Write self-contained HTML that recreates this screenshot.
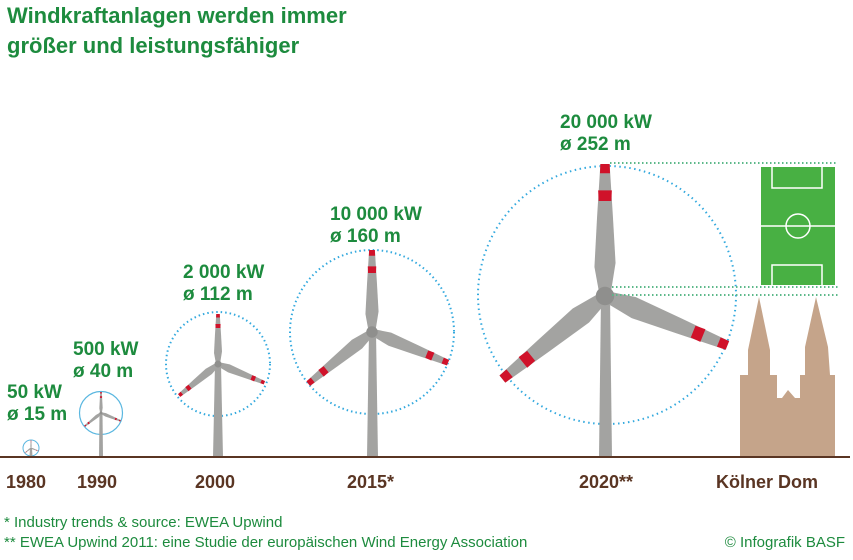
<!DOCTYPE html>
<html><head><meta charset="utf-8"><style>
html,body{margin:0;padding:0;background:#fff;}
svg{display:block;font-family:"Liberation Sans",sans-serif;}
.g{fill:#1d8b3e;font-weight:bold;font-size:19px;}
.y{fill:#5a3523;font-weight:bold;font-size:18px;}
.f{fill:#1d8b3e;font-size:15px;}
</style></head><body>
<svg width="853" height="560" viewBox="0 0 853 560" xmlns="http://www.w3.org/2000/svg">
<defs>
<g id="bl">
<path d="M-4,0 L-8,-22 L-6,-60 L-3.5,-100 L3.5,-100 L6,-60 L8,-25 L4,0 Z" fill="#a3a3a1"/>
<path d="M-3.8,-93 L-3.5,-100 L3.5,-100 L3.8,-93 Z" fill="#d0122a"/>
<path d="M-5.2,-80 L-4.8,-72 L4.8,-72 L5.2,-80 Z" fill="#d0122a"/>
</g>
<g id="tb">
<use href="#bl" transform="rotate(0)"/>
<use href="#bl" transform="rotate(112)"/>
<use href="#bl" transform="rotate(231)"/>
<circle r="7" fill="#8f8f8d"/>
</g>
</defs>
<text class="g" x="7" y="23" style="font-size:22px">Windkraftanlagen werden immer</text>
<text class="g" x="7" y="53" style="font-size:22px">größer und leistungsfähiger</text>

<circle cx="31" cy="448" r="8" fill="none" stroke="#5ab7e0" stroke-width="1"/>
<polygon points="30,448 32,448 32.5,457 29.5,457" fill="#a3a3a1"/>
<use href="#tb" transform="translate(31,448) scale(0.08)"/>
<circle cx="101" cy="413" r="21.5" fill="none" stroke="#5ab7e0" stroke-width="1.2"/>
<polygon points="99.5,413 102.5,413 103,457 99,457" fill="#a3a3a1"/>
<use href="#tb" transform="translate(101,413) scale(0.21)"/>
<circle cx="218" cy="364" r="52" fill="none" stroke="#33a9de" stroke-width="2" stroke-dasharray="1.5 3"/>
<polygon points="215,364 221,364 223,457 213,457" fill="#a3a3a1"/>
<use href="#tb" transform="translate(218,364) scale(0.5)"/>
<circle cx="372" cy="332" r="82" fill="none" stroke="#33a9de" stroke-width="2" stroke-dasharray="1.5 3"/>
<polygon points="369,332 376,332 378,457 367,457" fill="#a3a3a1"/>
<use href="#tb" transform="translate(372,332) scale(0.82)"/>
<circle cx="607" cy="295" r="129" fill="none" stroke="#33a9de" stroke-width="2" stroke-dasharray="1.5 3.5"/>
<polygon points="601,296 610,296 612,457 599,457" fill="#a3a3a1"/>
<use href="#tb" transform="translate(605,296) scale(1.32)"/>

<line x1="610" y1="163" x2="838" y2="163" stroke="#5cb88a" stroke-width="2" stroke-dasharray="1.5 2.5"/>
<line x1="612" y1="287" x2="838" y2="287" stroke="#5cb88a" stroke-width="2" stroke-dasharray="1.5 2.5"/>
<line x1="612" y1="295" x2="838" y2="295" stroke="#5cb88a" stroke-width="2" stroke-dasharray="1.5 2.5"/>
<rect x="761" y="167" width="74" height="118" fill="#48b043"/>
<g fill="none" stroke="#fff" stroke-width="1.5">
<line x1="761" y1="226" x2="835" y2="226"/>
<circle cx="798" cy="226" r="12"/>
<polyline points="772,167 772,188 822,188 822,167"/>
<polyline points="772,285 772,265 822,265 822,285"/>
</g>
<polygon fill="#c5a48a" points="740,457 740,375 748,375 748,350 759,297 770,350 770,375 777,375 777,398 782,398 788,390 795,398 800,398 800,375 805,375 805,347 816,297 828,347 830,375 835,375 835,457"/>

<line x1="0" y1="457" x2="850" y2="457" stroke="#5a3523" stroke-width="2"/>

<text class="g" x="7" y="398">50 kW</text><text class="g" x="7" y="420">ø 15 m</text>
<text class="g" x="73" y="355">500 kW</text><text class="g" x="73" y="377">ø 40 m</text>
<text class="g" x="183" y="278">2 000 kW</text><text class="g" x="183" y="300">ø 112 m</text>
<text class="g" x="330" y="220">10 000 kW</text><text class="g" x="330" y="242">ø 160 m</text>
<text class="g" x="560" y="128">20 000 kW</text><text class="g" x="560" y="150">ø 252 m</text>

<text class="y" x="6" y="488">1980</text>
<text class="y" x="77" y="488">1990</text>
<text class="y" x="195" y="488">2000</text>
<text class="y" x="347" y="488">2015*</text>
<text class="y" x="579" y="488">2020**</text>
<text class="y" x="716" y="488">Kölner Dom</text>

<text class="f" x="4" y="527">* Industry trends &amp; source: EWEA Upwind</text>
<text class="f" x="4" y="547">** EWEA Upwind 2011: eine Studie der europäischen Wind Energy Association</text>
<text class="f" x="845" y="547" text-anchor="end">© Infografik BASF</text>
</svg>
</body></html>
